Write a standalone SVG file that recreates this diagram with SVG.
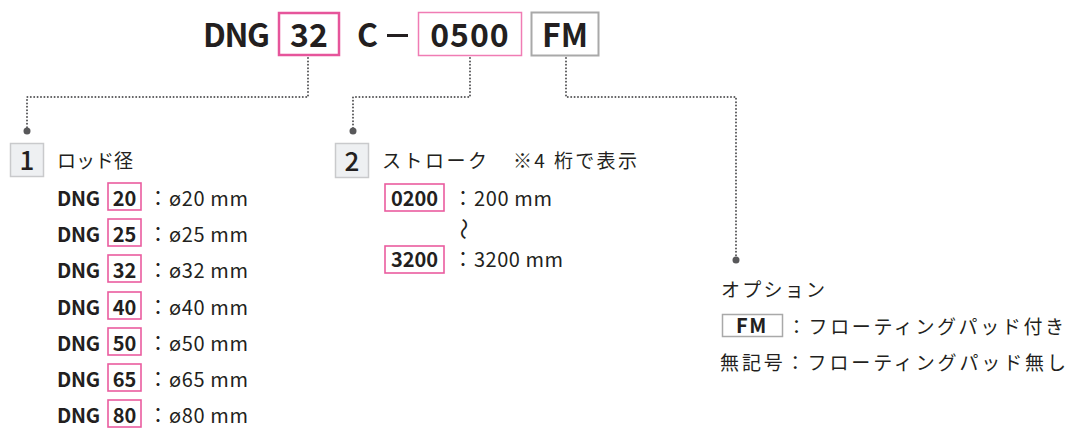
<svg xmlns="http://www.w3.org/2000/svg" width="1071" height="428" viewBox="0 0 1071 428">
<style>
text{font-family:"Noto Sans CJK JP","Noto Sans",sans-serif;fill:#231f20}
.b{font-weight:bold}
.big{font-size:32px;font-weight:bold}
.jp{font-size:19px}
.row{font-size:20px}
.pk{fill:#fff;stroke:#ea5c9f;stroke-width:1.6}
.num{fill:#eef0f2;stroke:#c9cacc;stroke-width:1.5}
.nn{font-size:26px;font-weight:500;text-anchor:middle}
.dot{fill:none;stroke:#58585a;stroke-width:2;stroke-dasharray:0 3.4;stroke-linecap:round}
.mid{text-anchor:middle}
</style>
<g id="code">
<text x="203" y="47" class="big" textLength="67">DNG</text>
<rect x="279" y="13" width="60" height="42" fill="#fff" stroke="#e6559b" stroke-width="2.5"/>
<text x="309" y="47" class="big mid">32</text>
<text x="357" y="47" class="big">C</text>
<rect x="387" y="34" width="21" height="3" fill="#231f20"/>
<rect x="418.5" y="12.5" width="103" height="43" fill="#fff" stroke="#f07cb4" stroke-width="1.5"/>
<text x="470" y="47" class="big mid" letter-spacing="1">0500</text>
<rect x="531.5" y="12.5" width="67" height="43" fill="#fff" stroke="#a9a9a9" stroke-width="2"/>
<text x="565" y="47" class="big mid">FM</text>
</g>
<g id="connectors">
<path class="dot" d="M308,58 V97 H27 V131"/>
<circle cx="27" cy="131" r="3.5" fill="#58585a"/>
<path class="dot" d="M470,58 V97 H353 V131"/>
<circle cx="353" cy="131" r="3.5" fill="#58585a"/>
<path class="dot" d="M566,58 V97 H736 V260"/>
<circle cx="736" cy="260" r="3.5" fill="#58585a"/>
</g>
<g id="rod">
<rect x="10.5" y="143.5" width="33" height="33" class="num"/>
<text x="27" y="170" class="nn">1</text>
<text x="57" y="168" class="jp" textLength="76">ロッド径</text>
<g class="row">
<text x="57" y="206" class="b" textLength="43">DNG</text><rect x="108" y="183" width="33" height="27" class="pk"/><text x="124.5" y="206" class="b mid">20</text><text x="148" y="206">：</text><text x="169" y="206" textLength="79">ø20 mm</text>
<text x="57" y="242" class="b" textLength="43">DNG</text><rect x="108" y="219" width="33" height="27" class="pk"/><text x="124.5" y="242" class="b mid">25</text><text x="148" y="242">：</text><text x="169" y="242" textLength="79">ø25 mm</text>
<text x="57" y="278" class="b" textLength="43">DNG</text><rect x="108" y="255" width="33" height="27" class="pk"/><text x="124.5" y="278" class="b mid">32</text><text x="148" y="278">：</text><text x="169" y="278" textLength="79">ø32 mm</text>
<text x="57" y="315" class="b" textLength="43">DNG</text><rect x="108" y="292" width="33" height="27" class="pk"/><text x="124.5" y="315" class="b mid">40</text><text x="148" y="315">：</text><text x="169" y="315" textLength="79">ø40 mm</text>
<text x="57" y="351" class="b" textLength="43">DNG</text><rect x="108" y="328" width="33" height="27" class="pk"/><text x="124.5" y="351" class="b mid">50</text><text x="148" y="351">：</text><text x="169" y="351" textLength="79">ø50 mm</text>
<text x="57" y="387" class="b" textLength="43">DNG</text><rect x="108" y="364" width="33" height="27" class="pk"/><text x="124.5" y="387" class="b mid">65</text><text x="148" y="387">：</text><text x="169" y="387" textLength="79">ø65 mm</text>
<text x="57" y="423" class="b" textLength="43">DNG</text><rect x="108" y="400" width="33" height="27" class="pk"/><text x="124.5" y="423" class="b mid">80</text><text x="148" y="423">：</text><text x="169" y="423" textLength="79">ø80 mm</text>
</g>
</g>
<g id="stroke">
<rect x="335.5" y="143.5" width="33" height="34" class="num"/>
<text x="352" y="171" class="nn">2</text>
<text x="382" y="168" class="jp" textLength="105">ストローク</text>
<text x="513" y="168" class="jp" textLength="124">※4 桁で表示</text>
<g class="row">
<rect x="385" y="184" width="59" height="27" class="pk"/><text x="414.5" y="206" class="b mid">0200</text><text x="453" y="206">：</text><text x="474" y="206" textLength="78">200 mm</text>
<text x="0" y="0" transform="translate(463,229) rotate(90)" class="mid" dy="7" font-size="22">～</text>
<rect x="385" y="246" width="59" height="27" class="pk"/><text x="414.5" y="267" class="b mid">3200</text><text x="453" y="267">：</text><text x="474" y="267" textLength="89">3200 mm</text>
</g>
</g>
<g id="option">
<text x="721" y="297" class="jp" font-size="20" textLength="104">オプション</text>
<rect x="722.5" y="314.5" width="60" height="22" fill="#fff" stroke="#a9a9a9" stroke-width="1.5"/>
<text x="752" y="332.5" class="b mid" font-size="20" letter-spacing="1.5">FM</text>
<text x="787" y="334" class="jp" font-size="20" textLength="277">：フローティングパッド付き</text>
<text x="720" y="370" class="jp" font-size="20" textLength="346">無記号：フローティングパッド無し</text>
</g>
</svg>
